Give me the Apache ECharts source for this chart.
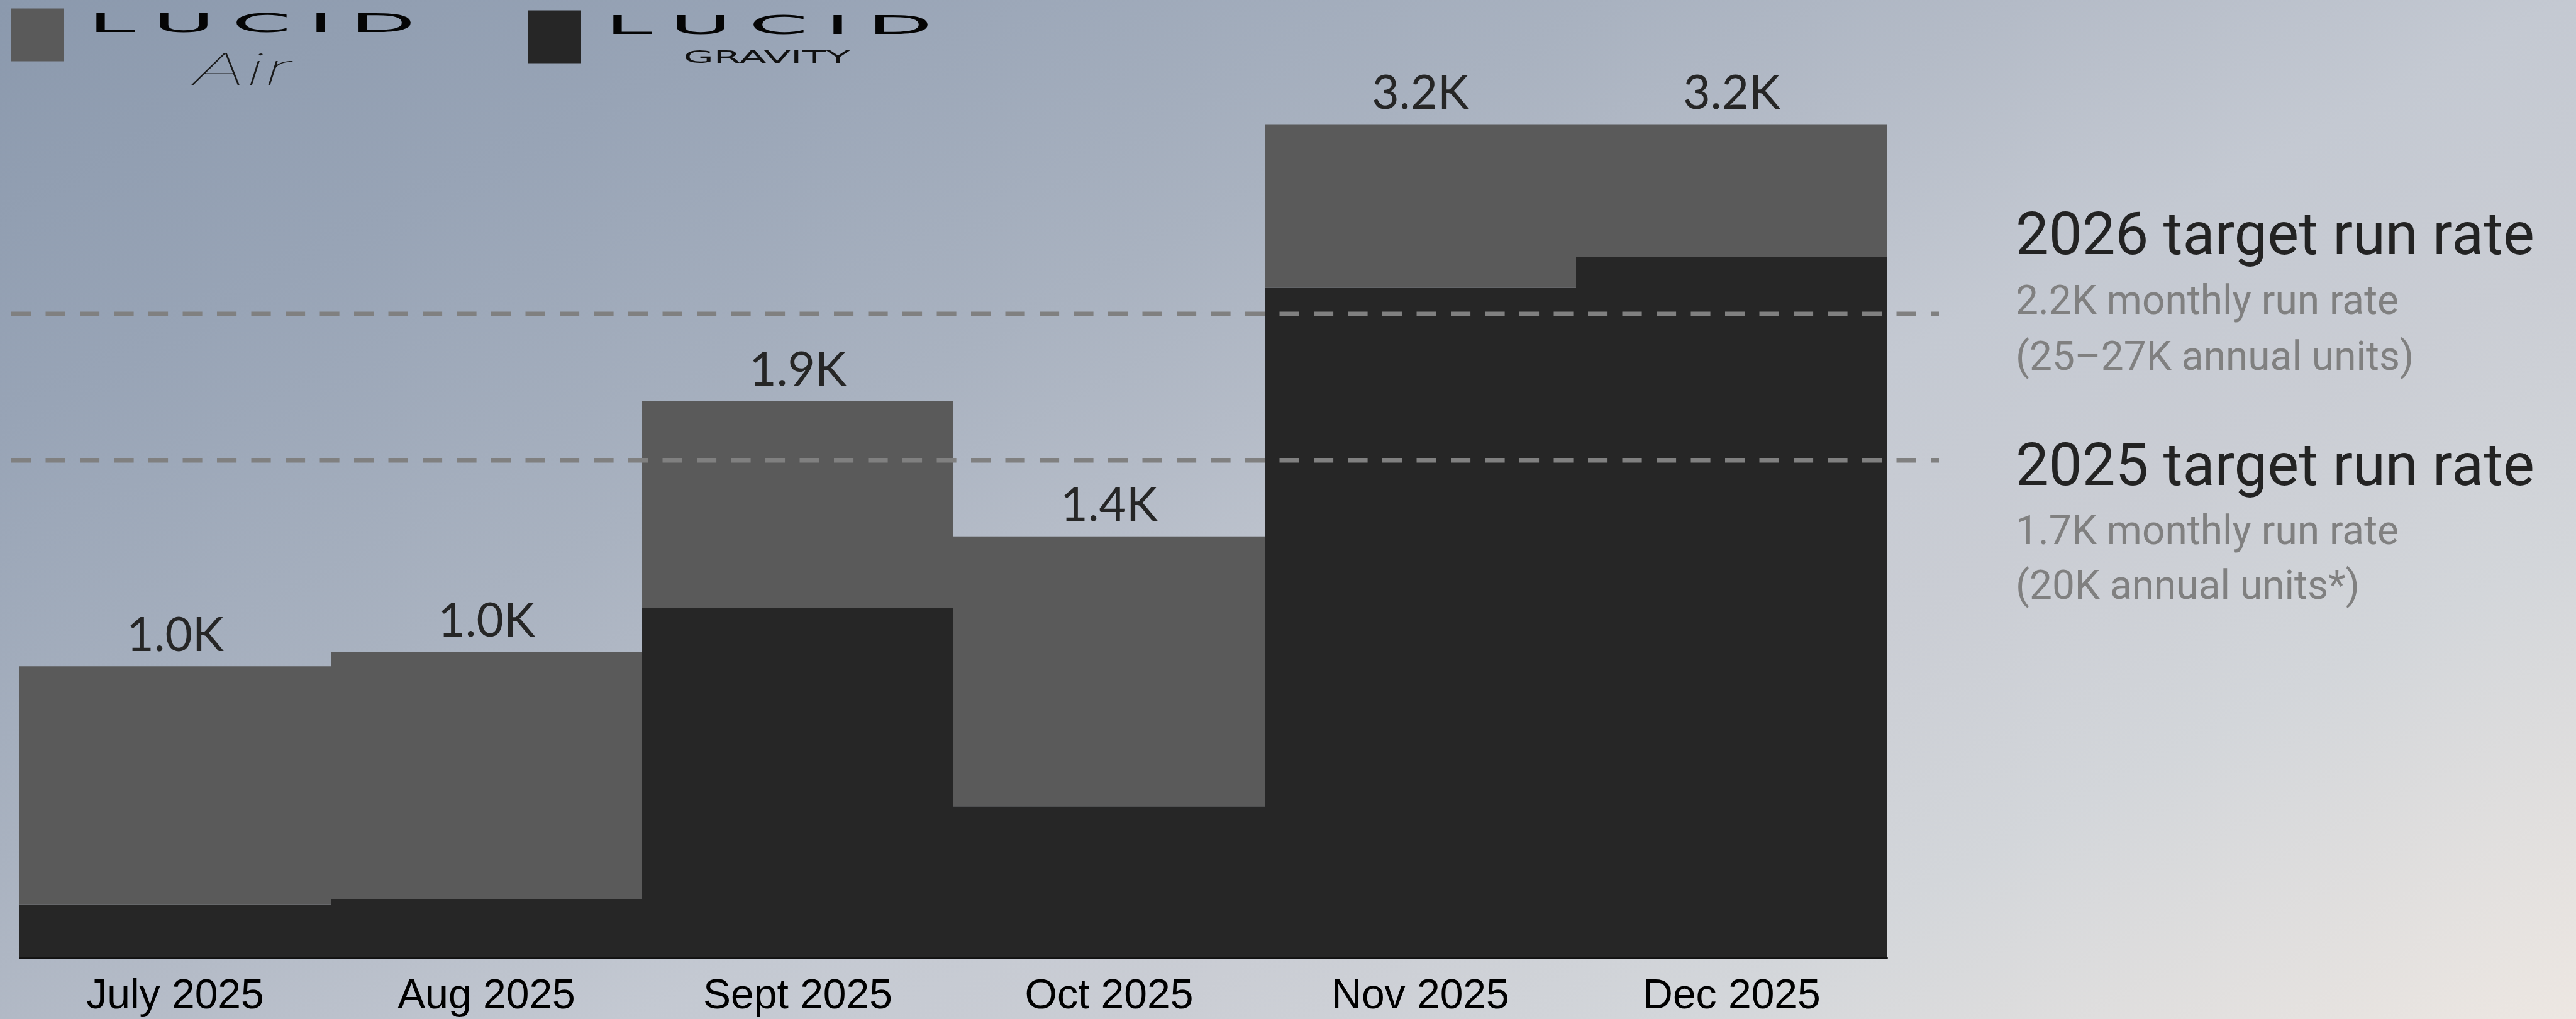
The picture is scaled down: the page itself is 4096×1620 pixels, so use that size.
<!DOCTYPE html>
<html>
<head>
<meta charset="utf-8">
<title>Lucid monthly production</title>
<script src="https://cdn.jsdelivr.net/npm/echarts@6/dist/echarts.min.js"></script>
<style>
  html, body { margin: 0; padding: 0; width: 4096px; height: 1620px; overflow: hidden; }
  #chart { width: 4096px; height: 1620px; }
</style>
</head>
<body>
<div id="chart"></div>
<script>
// Monthly production, vehicles
const months = ['July 2025', 'Aug 2025', 'Sept 2025', 'Oct 2025', 'Nov 2025', 'Dec 2025'];
const gravityUnits = [182, 200, 1195, 516, 2290, 2394];
const airUnits = [814, 845, 708, 924, 910, 806];

// Target monthly run rates (vehicles / month) and their notes
const targetYears = ['2026', '2025'];
const targetRates = [2200, 1700];
const annualNotes = ['(25\u201327K annual units)', '(20K annual units*)'];

const fmtK = v => (v / 1000).toFixed(1) + 'K';

const chart = echarts.init(document.getElementById('chart'), null, { renderer: 'canvas' });

// Shared value scale; the top of the range is condensed so the tallest months fit
const valueAxis = (gridIndex) => ({
  type: 'value',
  gridIndex,
  min: 0,
  max: 3400,
  show: false,
  splitLine: { show: false },
  breaks: [{ start: 2500, end: 2851, gap: 0 }],
  breakArea: { show: false }
});

const plotTop = 104.5;
const plotBottom = 97.7;

const series = [
  {
    name: 'Lucid Gravity',
    type: 'bar',
    stack: 'total',
    data: gravityUnits,
    barCategoryGap: '0%',
    itemStyle: { color: '#262626' },
    z: 2
  },
  {
    name: 'Lucid Air',
    type: 'bar',
    stack: 'total',
    data: airUnits,
    barCategoryGap: '0%',
    itemStyle: { color: '#5a5a5a' },
    z: 2,
    label: {
      show: true,
      position: 'top',
      distance: 11,
      fontFamily: 'Lato',
      fontSize: 75,
      lineHeight: 75,
      color: '#262626',
      formatter: p => fmtK(airUnits[p.dataIndex] + gravityUnits[p.dataIndex])
    }
  }
];

// Dashed target run-rate lines, drawn on a wider companion grid sharing the value scale
targetRates.forEach((rate, i) => {
  series.push({
    name: targetYears[i] + ' target run rate',
    type: 'line',
    xAxisIndex: 1,
    yAxisIndex: 1,
    data: [[0, rate], [1, rate]],
    symbol: 'none',
    silent: true,
    z: 5,
    lineStyle: { color: '#808080', width: 7.6, type: [31.1, 23.4], cap: 'butt' }
  });
});

// Background wash
const background = {
  type: 'rect',
  z: -100,
  silent: true,
  shape: { x: 0, y: 0, width: 4096, height: 1620 },
  style: {
    fill: {
      type: 'linear', x: 0, y: 0, x2: 1558, y2: 2957, global: true,
      colorStops: [
        { offset: 0, color: '#8b99ad' },
        { offset: 0.18, color: '#98a4b6' },
        { offset: 0.36, color: '#a9b2c0' },
        { offset: 0.45, color: '#b4bbc7' },
        { offset: 0.57, color: '#c4c9d2' },
        { offset: 0.68, color: '#cacdd4' },
        { offset: 0.8, color: '#d3d6da' },
        { offset: 1, color: '#ede7e2' }
      ]
    }
  }
};

// Brand keys
const legendItems = [
  { type: 'rect', shape: { x: 18, y: 13.4, width: 84, height: 84 }, style: { fill: '#5a5a5a' } },
  {
    type: 'text', x: 140, y: 40.4, scaleX: 3.3,
    style: { text: 'L\u2009U\u2009C\u2009I\u2009D', fontFamily: 'DejaVu Sans', fontSize: 41, fill: '#050505', align: 'left', verticalAlign: 'middle' }
  },
  {
    type: 'text', x: 306, y: 114, scaleX: 1.9,
    style: { text: 'Air', fontFamily: 'Inter', fontWeight: 100, fontStyle: 'italic', fontSize: 70, fill: '#1a1a1a', align: 'left', verticalAlign: 'middle' }
  },
  { type: 'rect', shape: { x: 840, y: 16.4, width: 84, height: 84 }, style: { fill: '#262626' } },
  {
    type: 'text', x: 962, y: 43.3, scaleX: 3.3,
    style: { text: 'L\u2009U\u2009C\u2009I\u2009D', fontFamily: 'DejaVu Sans', fontSize: 41, fill: '#050505', align: 'left', verticalAlign: 'middle' }
  },
  {
    type: 'text', x: 1086.5, y: 92.8, scaleX: 2.4,
    style: { text: 'GRAVITY', fontFamily: 'DejaVu Sans', fontSize: 26, fill: '#111111', align: 'left', verticalAlign: 'middle' }
  }
];

// Target notes on the right
const noteBaselines = [[405, 500, 589], [772, 866, 953]];
const notes = [];
targetYears.forEach((year, i) => {
  const [b0, b1, b2] = noteBaselines[i];
  notes.push({
    type: 'text', x: 3205, y: b0 - 24.5,
    style: { text: year + ' target run rate', fontFamily: 'Roboto', fontSize: 94, fill: '#232323', align: 'left', verticalAlign: 'middle' }
  });
  notes.push({
    type: 'text', x: 3205, y: b1 - 16.9,
    style: { text: fmtK(targetRates[i]) + ' monthly run rate', fontFamily: 'Roboto', fontSize: 64, fill: '#808080', align: 'left', verticalAlign: 'middle' }
  });
  notes.push({
    type: 'text', x: 3205, y: b2 - 16.9,
    style: { text: annualNotes[i], fontFamily: 'Roboto', fontSize: 64, fill: '#808080', align: 'left', verticalAlign: 'middle' }
  });
});

chart.setOption({
  animation: false,
  grid: [
    { left: 31, right: 1095, top: plotTop, bottom: plotBottom, outerBoundsMode: 'none' },
    { left: 18, right: 1013, top: plotTop, bottom: plotBottom, outerBoundsMode: 'none' }
  ],
  xAxis: [
    {
      type: 'category',
      gridIndex: 0,
      data: months,
      axisTick: { show: false },
      axisLine: { show: true, lineStyle: { color: '#111111', width: 2 } },
      splitLine: { show: false },
      axisLabel: {
        interval: 0,
        margin: 29,
        fontFamily: 'Liberation Sans',
        fontSize: 66,
        lineHeight: 66,
        color: '#000000'
      }
    },
    { type: 'value', gridIndex: 1, min: 0, max: 1, show: false }
  ],
  yAxis: [valueAxis(0), valueAxis(1)],
  graphic: [background].concat(legendItems, notes),
  series
});
</script>
</body>
</html>
